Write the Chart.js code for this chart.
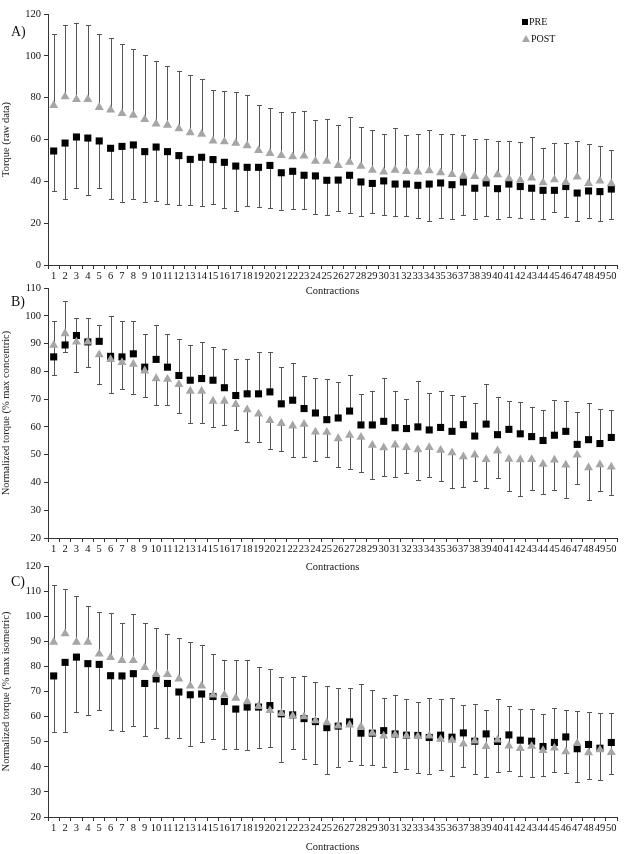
<!DOCTYPE html>
<html>
<head>
<meta charset="utf-8">
<script src="https://cdn.jsdelivr.net/npm/chart.js@4.4.1/dist/chart.umd.min.js"></script>
<style>
  body { margin: 0; background: #fff; font-family: 'Liberation Serif', serif; }
  #wrap { position: relative; width: 632px; height: 854px; overflow: hidden; }
  .panel { position: absolute; left: 0; width: 632px; }
  .tag { position: absolute; left: 11px; font-size: 14px; color: #111; }
  .leg { position: absolute; left: 522px; font-size: 10px; color: #111; line-height: 12px; }
  .sq { display: inline-block; width: 6px; height: 6px; background: #000; margin-right: 1px; }
  .tri { display: inline-block; width: 0; height: 0; border-left: 4px solid transparent; border-right: 4px solid transparent; border-bottom: 7px solid #a6a6a6; margin-right: 1px; }
</style>
</head>
<body>
<div id="wrap">
  <div class="panel" style="top:0;height:298px"><canvas id="chartA"></canvas></div>
  <div class="panel" style="top:276px;height:298px"><canvas id="chartB"></canvas></div>
  <div class="panel" style="top:552px;height:302px"><canvas id="chartC"></canvas></div>
  <div class="tag" style="top:24px">A)</div>
  <div class="tag" style="top:294px">B)</div>
  <div class="tag" style="top:574px">C)</div>
  <div class="leg" style="top:16px"><span class="sq"></span>PRE</div>
  <div class="leg" style="top:33px"><span class="tri"></span>POST</div>
</div>
<script>
const contractions = Array.from({ length: 50 }, (_, i) => String(i + 1));

// A) raw torque
const preA = [54.5,58.3,61.2,60.7,59.3,55.8,56.7,57.4,54.2,56.4, 54.2,52.3,50.5,51.5,50.4,49.1,47.3,46.7,46.7,47.6,
  44.1,44.8,42.9,42.6,40.5,40.6,42.9,39.7,39.0,40.2, 38.7,38.7,38.1,38.7,39.2,38.4,39.7,36.7,39.2,36.5,
  38.7,37.5,36.7,35.7,35.7,37.5,34.4,35.4,35.1,36.3];
const preLowA = [35.5,31.7,37.0,33.5,37.0,31.7,30.1,31.4,30.1,30.4, 29.0,28.5,28.5,28.0,29.3,27.1,25.7,28.2,27.9,27.1,
  26.1,26.9,26.6,24.2,23.9,25.7,24.7,23.6,24.7,23.9, 23.3,23.3,22.6,21.2,22.3,21.8,23.9,22.0,23.6,22.0,
  22.9,22.3,22.0,22.0,25.2,22.9,21.0,22.3,21.0,21.8];
const postA = [76.3,80.5,79.2,79.2,75.4,74.1,72.5,71.7,69.6,67.4, 66.9,65.2,63.3,62.6,59.3,59.0,58.2,57.1,54.8,53.4,
  52.4,51.8,52.1,49.6,49.6,47.6,49.2,47.2,45.3,44.5, 45.4,44.8,44.5,45.1,44.1,43.3,42.7,42.4,41.3,43.2,
  41.3,40.6,41.6,39.4,40.8,39.5,42.1,39.0,40.2,38.9];
const postHighA = [110.3,114.6,115.5,114.9,110.6,108.4,105.5,103.3,100.2,97.7, 95.3,92.6,91.0,88.9,83.8,83.2,82.5,81.4,76.5,74.9,
  73.0,73.0,73.8,69.2,69.6,66.9,70.8,65.8,64.5,62.6, 65.3,62.2,62.8,64.5,62.8,62.6,62.2,60.1,60.1,59.4,
  59.4,59.0,61.2,55.8,58.2,58.2,59.4,57.7,57.1,55.0];

// B) % max concentric
const preB = [85.2,89.5,92.9,90.6,90.8,85.4,85.2,86.3,81.5,84.3, 81.5,78.5,76.8,77.4,76.8,74.1,71.3,71.9,71.9,72.6,
  68.3,69.6,66.6,65.0,62.6,63.2,65.7,60.7,60.7,62.0, 59.7,59.4,60.0,58.9,59.8,58.4,60.8,56.7,61.0,57.2,
  59.1,57.5,56.5,55.1,57.0,58.4,53.7,55.4,54.0,56.2];
const preHighB = [98.1,105.4,99.2,99.2,96.8,100.0,98.3,98.0,93.6,96.8, 93.5,91.6,89.6,90.6,88.6,88.0,84.6,84.3,87.0,87.0,
  81.4,82.9,78.2,77.7,77.3,76.0,78.6,71.7,73.1,77.5, 72.9,69.9,76.4,72.2,72.9,71.6,71.0,68.7,75.5,70.6,
  69.4,69.0,67.3,66.2,69.6,69.2,65.4,68.7,66.6,66.2];
const postB = [89.4,93.6,90.6,90.6,86.0,84.3,83.2,82.6,80.2,77.4, 77.2,75.3,72.9,72.9,69.3,69.3,68.1,66.2,64.7,62.3,
  61.3,60.4,61.0,58.2,58.1,55.8,57.0,56.3,53.4,52.5, 53.5,52.6,51.8,52.6,51.6,50.7,49.3,49.9,48.3,51.4,
  48.4,48.2,48.3,46.6,48.1,46.3,49.9,45.3,46.4,45.6];
const postLowB = [78.6,87.0,79.6,81.5,75.3,72.2,73.5,72.0,70.6,68.0, 68.0,65.0,61.3,61.5,59.8,60.7,58.8,54.5,54.5,52.2,
  51.4,49.0,49.0,47.9,49.0,45.6,45.0,43.6,41.2,42.4, 41.8,43.3,40.8,41.9,40.6,38.1,38.4,40.7,38.1,41.5,
  37.1,35.3,37.4,35.7,37.4,34.3,39.5,33.6,36.8,35.4];

// C) % max isometric
const preC = [76.2,81.6,83.7,81.1,80.8,76.3,76.2,77.1,73.2,75.0, 73.2,69.8,68.7,69.0,68.0,66.0,63.0,63.8,63.8,64.4,
  61.1,60.7,59.2,58.0,55.6,56.2,57.9,53.4,53.4,54.4, 53.1,52.6,52.5,51.7,52.6,51.8,53.5,50.2,53.1,50.1,
  52.7,50.6,50.2,48.1,49.7,51.9,47.2,48.9,47.4,49.7];
const preLowC = [53.8,53.8,61.9,60.7,62.8,54.6,54.2,56.4,52.3,55.4, 51.4,51.4,48.2,49.7,51.0,47.0,47.0,46.6,47.4,47.7,
  42.0,47.0,43.3,41.3,37.2,40.0,42.4,40.8,40.7,39.9, 38.0,39.3,37.5,37.1,38.7,36.4,40.0,37.1,35.8,38.0,
  38.4,36.4,36.0,36.4,38.1,37.5,34.0,35.2,34.7,37.2];
const postC = [89.7,93.0,89.7,89.7,85.0,83.6,82.4,82.4,79.6,76.8, 76.8,75.0,72.2,72.2,68.6,68.6,67.4,66.0,64.1,62.5,
  61.3,60.3,60.0,58.4,57.6,56.3,56.7,56.0,53.4,52.3, 52.8,52.3,52.1,52.3,51.0,50.6,49.1,50.3,48.1,50.7,
  48.3,47.3,48.2,46.5,47.5,46.0,49.3,45.6,46.8,45.7];
const postHighC = [112.5,110.7,107.9,104.2,101.7,101.2,97.4,100.7,97.4,95.1, 93.1,91.4,89.8,88.7,85.0,82.6,82.5,82.5,79.9,78.8,
  75.6,75.6,76.3,73.6,72.1,71.3,71.5,72.8,70.5,67.4, 68.7,67.2,65.7,67.4,66.9,67.4,64.5,65.2,62.6,67.2,
  64.2,62.9,62.9,61.2,63.3,62.6,62.1,61.9,61.5,61.3];

const serif = 'Liberation Serif';

// error bars: a line from each point to its end value, with a small cap
const errorBars = {
  id: 'errorBars',
  beforeDatasetsDraw(chart) {
    const ctx = chart.ctx;
    const xs = chart.scales.x, ys = chart.scales.y;
    ctx.save();
    ctx.strokeStyle = '#555';
    ctx.lineWidth = 1;
    chart.data.datasets.forEach(ds => {
      if (!ds.errorEnds) return;
      ds.data.forEach((v, i) => {
        const x = Math.round(xs.getPixelForValue(i)) + 0.5;
        const y0 = ys.getPixelForValue(v);
        const y1 = Math.round(ys.getPixelForValue(ds.errorEnds[i])) + 0.5;
        ctx.beginPath();
        ctx.moveTo(x, y0);
        ctx.lineTo(x, y1);
        ctx.moveTo(x - 2.5, y1);
        ctx.lineTo(x + 2.5, y1);
        ctx.stroke();
      });
    });
    ctx.restore();
  }
};

function makeChart(id, pre, preEnds, post, postEnds, yMin, yMax, yStep, yTitle, plotTop, plotBottom, height) {
  new Chart(document.getElementById(id), {
    type: 'line',
    data: {
      labels: contractions,
      datasets: [
        {
          label: 'PRE', data: pre, errorEnds: preEnds, order: 2,
          showLine: false, pointStyle: 'rect', pointRadius: 5,
          pointBackgroundColor: '#000', pointBorderColor: '#000', pointBorderWidth: 0
        },
        {
          label: 'POST', data: post, errorEnds: postEnds, order: 1,
          showLine: false, pointStyle: 'triangle', pointRadius: 5.2,
          pointBackgroundColor: '#a6a6a6', pointBorderColor: '#a6a6a6', pointBorderWidth: 0
        }
      ]
    },
    options: {
      responsive: true,
      maintainAspectRatio: false,
      animation: false,
      layout: { padding: { top: plotTop, right: 15, left: 0, bottom: 0 } },
      plugins: { legend: { display: false }, tooltip: { enabled: false } },
      scales: {
        x: {
          offset: true,
          grid: { offset: true, drawOnChartArea: false, tickLength: 4, color: '#333' },
          border: { color: '#333' },
          ticks: { autoSkip: false, maxRotation: 0, minRotation: 0, padding: 1, color: '#111',
                   font: { family: serif, size: 10.5 } },
          title: { display: true, text: 'Contractions', color: '#111', padding: { top: 0, bottom: 0 },
                   font: { family: serif, size: 10.5 } },
          afterFit: s => { s.height = height - plotBottom; }
        },
        y: {
          min: yMin, max: yMax,
          grid: { drawOnChartArea: false, tickLength: 4, color: '#333' },
          border: { color: '#333' },
          ticks: { stepSize: yStep, padding: 3, color: '#111', font: { family: serif, size: 10.5 } },
          title: { display: true, text: yTitle, color: '#222', padding: { top: 0, bottom: 0 },
                   font: { family: serif, size: 10.5 } },
          afterFit: s => { s.width = 48; }
        }
      }
    },
    plugins: [errorBars]
  });
}

makeChart('chartA', preA, preLowA, postA, postHighA, 0, 120, 20, 'Torque (raw data)', 14, 265, 298);
makeChart('chartB', preB, preHighB, postB, postLowB, 20, 110, 10, 'Normalized torque (% max concentric)', 12, 262, 298);
makeChart('chartC', preC, preLowC, postC, postHighC, 20, 120, 10, 'Normalized torque (% max isometric)', 14, 265, 302);
</script>
</body>
</html>
